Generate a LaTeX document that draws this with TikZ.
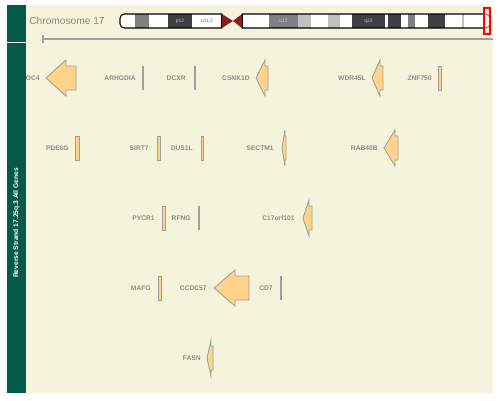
\documentclass[tikz,border=0pt]{standalone}
\usepackage{fontspec}
\setmainfont{Liberation Sans}
\setsansfont{Liberation Sans}
\usepackage{tikz}
\usepackage{xcolor}
\definecolor{trackbg}{HTML}{F4F4DC}
\definecolor{sidegreen}{HTML}{03594A}
\definecolor{genefill}{HTML}{FFD48A}
\definecolor{geneline}{HTML}{A0A0A0}
\definecolor{labelgray}{HTML}{8C8C8C}
\definecolor{chromgray}{HTML}{8A8A82}
\definecolor{banddark}{HTML}{404040}
\definecolor{bandmid}{HTML}{808080}
\definecolor{bandlight}{HTML}{C0C0C0}
\definecolor{centred}{HTML}{8B1E1E}

% reverse-strand gene glyph: tip x, head base x, end x, row y
\newcommand{\revgene}[4]{%
  \filldraw[gene] (#1,#4) -- (#2,#4-18) -- (#2,#4-12) -- (#3,#4-12)
    -- (#3,#4+12) -- (#2,#4+12) -- (#2,#4+18) -- cycle;}
% small gene drawn as a box: left x, right x, row y
\newcommand{\genebox}[3]{%
  \filldraw[gene] (#1,#3-12) rectangle (#2,#3+12);}
% gene with no fill: x, row y
\newcommand{\genetick}[2]{%
  \draw[tick] (#1,#2-12) -- (#1,#2+12);}

\begin{document}
\begin{tikzpicture}[
    x=0.02cm, y=-0.02cm,
    gene/.style={fill=genefill, draw=geneline, line width=0.5pt},
    tick/.style={draw=geneline, line width=1.1pt},
    glabel/.style={font=\fontsize{3.8}{4}\selectfont\bfseries, text=labelgray,
      anchor=east, inner sep=0pt},
    band/.style={font=\fontsize{2.8}{3}\selectfont, inner sep=0pt},
  ]
  \useasboundingbox (0,0) rectangle (500,400);
  \fill[white] (0,0) rectangle (500,400);

  % =================== PANELS ===================
  \fill[trackbg] (26,5) rectangle (493,393);
  \fill[sidegreen] (7,5) rectangle (26,42);
  \fill[sidegreen] (7,43) rectangle (26,393);
  \node[rotate=90, text=white, font=\fontsize{3.8}{4}\selectfont\bfseries, inner sep=0pt]
    (strand) at (16.5,223) {Reverse Strand 17.25q.3 All Genes};

  % =================== HEADER ===================
  \node[anchor=west, text=chromgray, font=\fontsize{5.8}{6}\selectfont, inner sep=0pt]
    (chrom) at (29,21) {Chromosome 17};

  % p arm
  \fill[white, rounded corners=2.5pt] (120,14) rectangle (222,28);
  \fill[bandmid] (135,14) rectangle (149,28);
  \fill[banddark] (168,14) rectangle (192,28);
  \draw[black, line width=0.6pt, rounded corners=2.5pt] (222,14) -- (120,14) -- (120,28) -- (222,28);
  \draw[black, line width=0.6pt] (222,14) -- (222,28);
  % q arm
  \fill[white, rounded corners=2.5pt] (242,14) rectangle (490,28);
  \fill[bandmid] (269,14) rectangle (298,28);
  \fill[bandlight] (298,14) rectangle (311,28);
  \fill[bandlight] (328,14) rectangle (340,28);
  \fill[banddark] (352,14) rectangle (385,28);
  \fill[banddark] (388,14) rectangle (401,28);
  \fill[bandmid] (408,14) rectangle (415,28);
  \fill[banddark] (428,14) rectangle (445,28);
  \fill[bandlight] (462,14) rectangle (464,28);
  \draw[black, line width=0.6pt, rounded corners=2.5pt] (242,14) -- (490,14) -- (490,28) -- (242,28);
  \draw[black, line width=0.6pt] (242,14) -- (242,28);
  % centromere
  \fill[centred] (222,14) -- (233,21) -- (222,28) -- cycle;
  \fill[centred] (242,14) -- (233,21) -- (242,28) -- cycle;
  % band names
  \node[band, text=bandlight] (p12) at (180,21) {p12};
  \node[band, text=bandmid!80!blue] (p112) at (207,21) {p11.2};
  \node[band, text=bandlight] (q12) at (283.5,21) {q12};
  \node[band, text=bandlight] (q22) at (368.5,21) {q22};
  % view marker
  \filldraw[draw=red, fill=red!12, fill opacity=0.6, line width=0.6pt] (484,8) rectangle (490,34);

  % scale line
  \draw[geneline, line width=0.6pt] (43,39) -- (493,39);
  \draw[geneline, line width=0.6pt] (43,35) -- (43,43);

  % =================== GENES ===================
  \begin{scope}
    \clip (26,43) rectangle (493,393);

    % row 1
    \node[glabel] (NPLOC4) at (40,78) {NPLOC4};
    \revgene{46}{66}{76}{78}
    \node[glabel] (ARHGDIA) at (136,78) {ARHGDIA};
    \genetick{143}{78}
    \node[glabel] (DCXR) at (186,78) {DCXR};
    \genetick{195}{78}
    \node[glabel] (CSNK1D) at (250,78) {CSNK1D};
    \revgene{256}{265}{268}{78}
    \node[glabel] (WDR45L) at (366,78) {WDR45L};
    \revgene{372}{380}{383}{78}
    \node[glabel] (ZNF750) at (432,78) {ZNF750};
    \genebox{438}{441}{78}

    % row 2
    \node[glabel] (PDE6G) at (69,148) {PDE6G};
    \genebox{75}{79}{148}
    \node[glabel] (SIRT7) at (149,148) {SIRT7};
    \genebox{157}{160}{148}
    \node[glabel] (DUS1L) at (193,148) {DUS1L};
    \genebox{201}{203}{148}
    \node[glabel] (SECTM1) at (274,148) {SECTM1};
    \revgene{282}{285}{286}{148}
    \node[glabel] (RAB40B) at (378,148) {RAB40B};
    \revgene{384}{395}{398}{148}

    % row 3
    \node[glabel] (PYCR1) at (155,218) {PYCR1};
    \genebox{162}{165}{218}
    \node[glabel] (RFNG) at (191,218) {RFNG};
    \genetick{199}{218}
    \node[glabel] (C17orf101) at (295,218) {C17orf101};
    \revgene{303}{309}{312}{218}

    % row 4
    \node[glabel] (MAFG) at (151,288) {MAFG};
    \genebox{158}{161}{288}
    \node[glabel] (CCDC57) at (207,288) {CCDC57};
    \revgene{214}{235}{249}{288}
    \node[glabel] (CD7) at (273,288) {CD7};
    \genetick{281}{288}

    % row 5
    \node[glabel] (FASN) at (201,358) {FASN};
    \revgene{207}{211}{213}{358}
  \end{scope}

\end{tikzpicture}
\end{document}
